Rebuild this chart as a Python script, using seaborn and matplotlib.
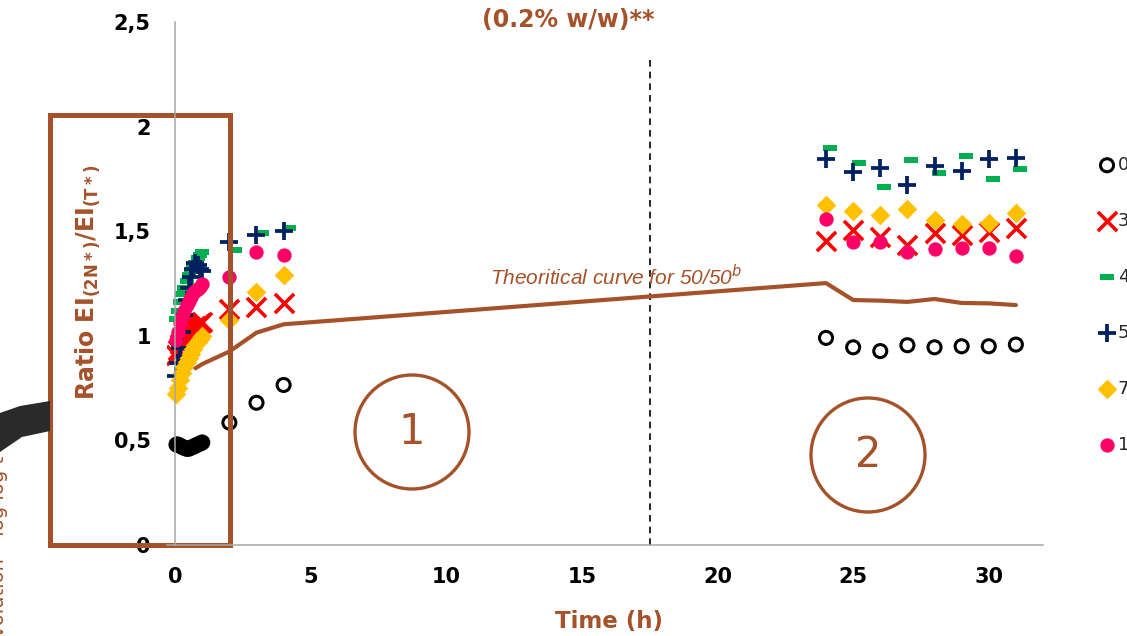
import numpy as np
import pandas as pd
import matplotlib
matplotlib.use("Agg")
import matplotlib.pyplot as plt
import matplotlib.patches as mpatches
from matplotlib.path import Path
from matplotlib.ticker import FuncFormatter
import seaborn as sns

sns.set_style("white")
plt.rcParams['font.family'] = ['DejaVu Sans']

W, H = 1127, 636
brown = '#A5522B'

# temps de prelevement (h)
t_early = [0.05, 0.1, 0.17, 0.25, 0.33, 0.42, 0.5, 0.58, 0.67, 0.75, 0.83, 0.92, 1.0]
t_mid = [2, 3, 4]
t_late = [24, 25, 26, 27, 28, 29, 30, 31]
t_mid_g = [2.2, 3.2, 4.2]
t_late_g = [24.15, 25.2, 26.15, 27.15, 28.15, 29.15, 30.15, 31.15]

# ratio EI(2N*)/EI(T*) pour chaque melange
r0 = [0.48, 0.48, 0.475, 0.47, 0.465, 0.46, 0.46, 0.465, 0.47, 0.475, 0.48, 0.485, 0.49,
      0.585, 0.68, 0.765,
      0.99, 0.945, 0.927, 0.955, 0.945, 0.95, 0.95, 0.958]
r30 = [0.91, 0.93, 0.96, 0.98, 0.995, 1.005, 1.015, 1.025, 1.035, 1.045, 1.05, 1.06, 1.065,
       1.13, 1.14, 1.157,
       1.453, 1.506, 1.473, 1.434, 1.49, 1.48, 1.495, 1.515]
r40 = [1.08, 1.12, 1.16, 1.2, 1.23, 1.26, 1.29, 1.31, 1.33, 1.35, 1.37, 1.385, 1.40,
       1.41, 1.49, 1.515,
       1.897, 1.824, 1.713, 1.84, 1.777, 1.861, 1.748, 1.796]
r50 = [0.81, 0.87, 0.94, 1.02, 1.1, 1.17, 1.23, 1.28, 1.32, 1.35, 1.34, 1.32, 1.31,
       1.45, 1.48, 1.50,
       1.845, 1.785, 1.80, 1.72, 1.813, 1.79, 1.844, 1.848]
r70 = [0.72, 0.75, 0.79, 0.82, 0.85, 0.875, 0.895, 0.915, 0.935, 0.955, 0.97, 0.985, 1.0,
       1.075, 1.21, 1.29,
       1.625, 1.598, 1.577, 1.605, 1.553, 1.534, 1.541, 1.589]
r100 = [0.98, 1.02, 1.06, 1.09, 1.12, 1.145, 1.165, 1.185, 1.205, 1.215, 1.225, 1.235, 1.25,
        1.28, 1.40, 1.385,
        1.557, 1.45, 1.45, 1.402, 1.413, 1.421, 1.418, 1.383]

# courbe theorique 50/50
t_theo = [0.75, 1, 2, 3, 4, 24, 25, 26, 27, 28, 29, 30, 31]
r_theo = [0.845, 0.865, 0.925, 1.015, 1.055, 1.252, 1.171, 1.168, 1.162, 1.176, 1.157, 1.155, 1.147]

labels = ['0/100', '30/70', '40/60', '50/50', '70/30', '100/0']

t_all = t_early + t_mid + t_late
t_all_g = t_early + t_mid_g + t_late_g

fig = plt.figure(figsize=(W / 100, H / 100), dpi=100)
ax = fig.add_axes([167 / W, 1 - 545 / H, (1043 - 167) / W, (545 - 22) / H])

theo = pd.DataFrame({'t': t_theo, 'r': r_theo})
sns.lineplot(data=theo, x='t', y='r', color=brown, lw=3, sort=False, estimator=None, ax=ax, zorder=1.8)

# marqueur "tiret" vert (petit rectangle)
dash = Path([(-1, -0.42), (1, -0.42), (1, 0.42), (-1, 0.42), (-1, -0.42)],
            [Path.MOVETO, Path.LINETO, Path.LINETO, Path.LINETO, Path.CLOSEPOLY])

sns.scatterplot(x=t_all, y=r0, marker='o', s=88, color='black', facecolor='none',
                edgecolor='black', linewidth=2.2, ax=ax, label=labels[0], legend=False)
sns.scatterplot(x=t_all, y=r30, marker='x', s=190, color='#FF0000', linewidth=2.6,
                ax=ax, label=labels[1], legend=False)
sns.scatterplot(x=t_all_g, y=r40, marker=dash, s=90, color='#00B050', edgecolor='#00B050',
                linewidth=0, ax=ax, label=labels[2], legend=False)
sns.scatterplot(x=t_all, y=r50, marker='+', s=180, color='#002060', linewidth=2.7,
                ax=ax, label=labels[3], legend=False)
sns.scatterplot(x=t_all, y=r70, marker='D', s=100, color='#FFC000', edgecolor='#FFC000',
                linewidth=0, ax=ax, label=labels[4], legend=False)
sns.scatterplot(x=t_all, y=r100, marker='o', s=106, color='#FF0066', edgecolor='#FF0066',
                linewidth=0, ax=ax, label=labels[5], legend=False)

ax.set_xlim(-0.3, 32)
ax.set_ylim(0, 2.5)
ax.set_xticks([0, 5, 10, 15, 20, 25, 30])
ax.set_yticks([0, 0.5, 1, 1.5, 2, 2.5])
fmt = FuncFormatter(lambda v, _: f'{v:g}'.replace('.', ','))
ax.xaxis.set_major_formatter(fmt)
ax.yaxis.set_major_formatter(fmt)
ax.set_xlabel('')
ax.set_ylabel('')
for s in ['top', 'right']:
    ax.spines[s].set_visible(False)
ax.spines['left'].set_position(('data', 0))
for s in ['left', 'bottom']:
    ax.spines[s].set_color('#A6A6A6')
    ax.spines[s].set_linewidth(1.1)
ax.tick_params(axis='both', direction='out', color='#A6A6A6', width=1.1, length=6.5,
               labelsize=15, labelcolor='black')
ax.tick_params(axis='y', pad=11)
ax.tick_params(axis='x', pad=9)
for lab in ax.get_xticklabels() + ax.get_yticklabels():
    lab.set_fontweight('bold')
ax.patch.set_alpha(0)

# ligne pointillee a 17.5 h
ax.plot([17.5, 17.5], [0, 2.34], color='black', lw=1.2, ls=(0, (4, 3)), zorder=1.5)

fig.text(490 / W, 1 - 285 / H, 'Theoritical curve for 50/50$^{b}$', color=brown,
         fontsize=15, style='italic', family='Liberation Sans', va='baseline', ha='left')

# textes de la figure
fig.text(568 / W, 1 - 27 / H, '(0.2% w/w)**', color=brown, fontsize=17, fontweight='bold',
         ha='center', va='baseline')
fig.text(609 / W, 1 - 628 / H, 'Time (h)', color=brown, fontsize=16.5, fontweight='bold',
         ha='center', va='baseline')
fig.text(88 / W, 1 - 282 / H, 'Ratio EI$_{\\mathbf{(2N*)}}$/EI$_{\\mathbf{(T*)}}$', color=brown,
         fontsize=17, fontweight='bold', rotation=90, ha='center', va='center')

# cadre marron autour de l'axe y
rect = mpatches.Rectangle((50 / W, 1 - 545 / H), 180 / W, 430 / H, transform=fig.transFigure,
                          fill=False, edgecolor=brown, lw=3.6, zorder=1.6, clip_on=False)
ax.add_patch(rect)

# cercles numerotes
for cx, cy, num in [(412, 432, '1'), (868, 455, '2')]:
    e = mpatches.Ellipse((cx / W, 1 - cy / H), 114 / W, 114 / H, transform=fig.transFigure,
                         fill=False, edgecolor=brown, lw=2.4)
    fig.add_artist(e)
    fig.text(cx / W, 1 - cy / H, num, color=brown, fontsize=30, ha='center', va='center')

# decor de la diapositive a gauche
band = mpatches.Polygon([(0, 1 - 413 / H), (20 / W, 1 - 406 / H), (50 / W, 1 - 401 / H),
                         (50 / W, 1 - 431 / H), (22 / W, 1 - 437 / H), (0, 1 - 452 / H)],
                        closed=True, transform=fig.transFigure, color='#2A2A2A', lw=0)
fig.add_artist(band)
fig.text(8 / W, -0.02, 'Evolution * log log t', color=brown, fontsize=14, rotation=90,
         ha='right', va='bottom')

hs, ls = ax.get_legend_handles_labels()
leg = fig.legend(hs[-6:], ls[-6:], loc='upper left', bbox_to_anchor=(1098 / W, 1 - 156 / H),
                 frameon=False, fontsize=13, handlelength=1.0, handletextpad=0.1,
                 borderpad=0, borderaxespad=0, labelspacing=2.1)

fig.savefig('out.png', dpi=100)
